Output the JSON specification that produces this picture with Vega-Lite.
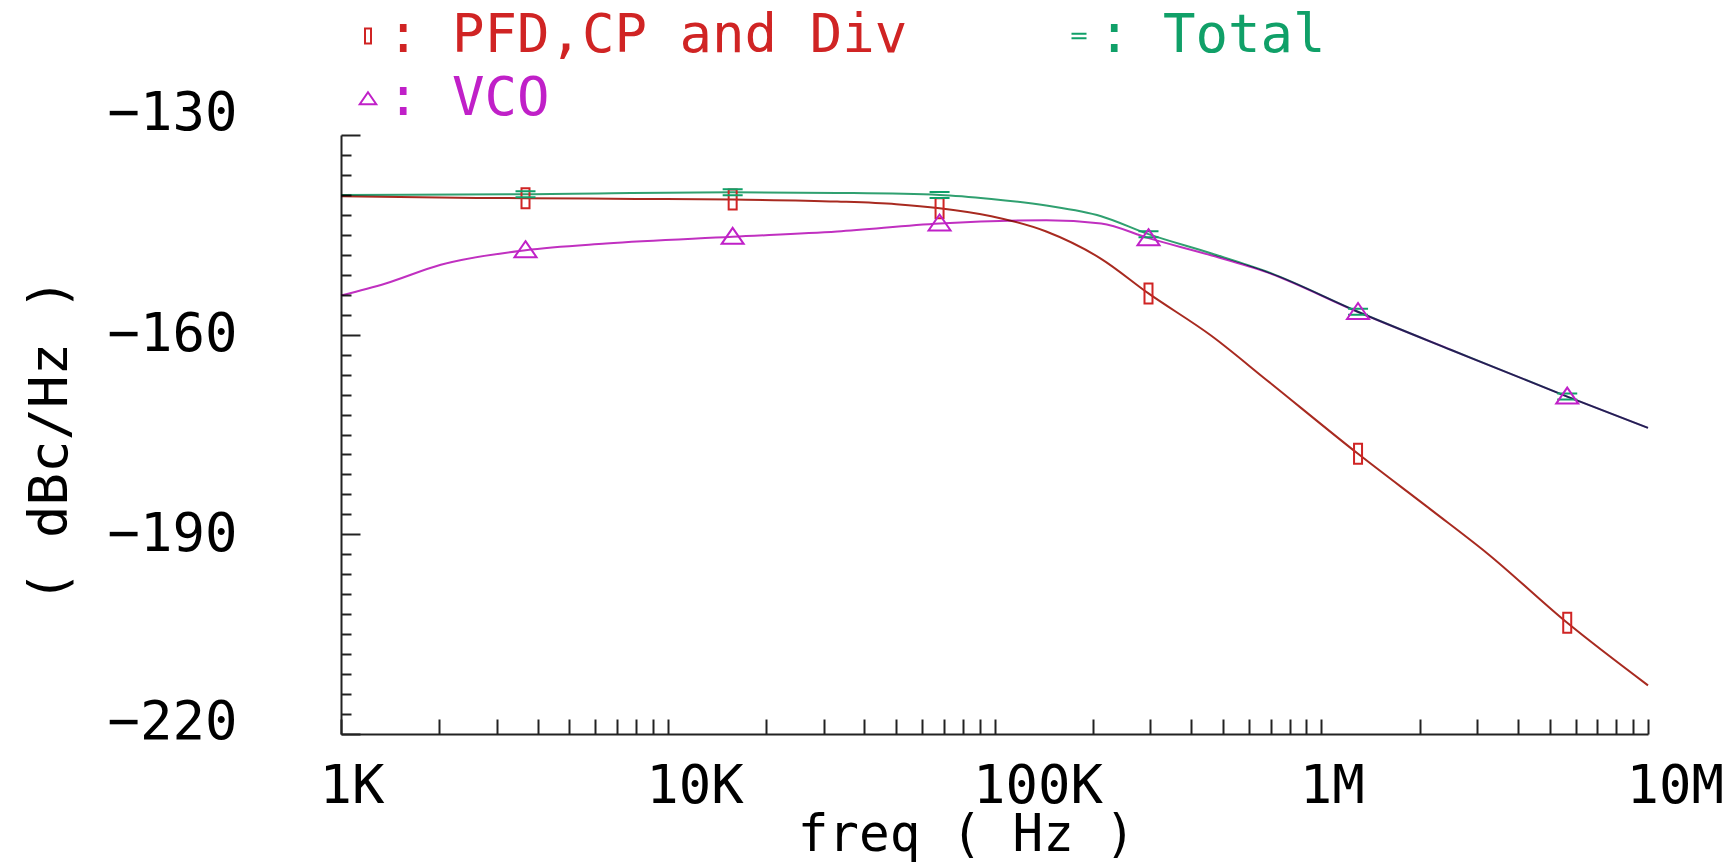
{
  "$schema": "https://vega.github.io/schema/vega-lite/v6.json",
  "width": 1307,
  "height": 599,
  "autosize": {"type": "none"},
  "padding": {"left": 341, "top": 135, "right": 80, "bottom": 130},
  "background": "white",
  "config": {"view": {"stroke": null}, "font": "DejaVu Sans Mono"},
  "data": {
    "values": [
      {"s": "PFD,CP and Div", "f": 1000, "v": -139.2, "m": 0},
      {"s": "PFD,CP and Div", "f": 2000, "v": -139.4, "m": 0},
      {"s": "PFD,CP and Div", "f": 3670, "v": -139.5, "m": 1},
      {"s": "PFD,CP and Div", "f": 8000, "v": -139.6, "m": 0},
      {"s": "PFD,CP and Div", "f": 15800, "v": -139.7, "m": 1},
      {"s": "PFD,CP and Div", "f": 33000, "v": -140.0, "m": 0},
      {"s": "PFD,CP and Div", "f": 50000, "v": -140.4, "m": 0},
      {"s": "PFD,CP and Div", "f": 67900, "v": -141.0, "m": 1},
      {"s": "PFD,CP and Div", "f": 97800, "v": -142.2, "m": 0},
      {"s": "PFD,CP and Div", "f": 144000, "v": -144.5, "m": 0},
      {"s": "PFD,CP and Div", "f": 212000, "v": -148.6, "m": 0},
      {"s": "PFD,CP and Div", "f": 296000, "v": -153.8, "m": 1},
      {"s": "PFD,CP and Div", "f": 462000, "v": -160.2, "m": 0},
      {"s": "PFD,CP and Div", "f": 680000, "v": -166.8, "m": 0},
      {"s": "PFD,CP and Div", "f": 1296000, "v": -177.9, "m": 1},
      {"s": "PFD,CP and Div", "f": 2180000, "v": -186.4, "m": 0},
      {"s": "PFD,CP and Div", "f": 3210000, "v": -192.8, "m": 0},
      {"s": "PFD,CP and Div", "f": 5660000, "v": -203.3, "m": 1},
      {"s": "PFD,CP and Div", "f": 10000000, "v": -212.7, "m": 0},
      {"s": "Total", "f": 1000, "v": -139.0, "m": 0},
      {"s": "Total", "f": 3670, "v": -138.9, "m": 1},
      {"s": "Total", "f": 15800, "v": -138.6, "m": 1},
      {"s": "Total", "f": 33000, "v": -138.7, "m": 0},
      {"s": "Total", "f": 67900, "v": -139.0, "m": 1},
      {"s": "Total", "f": 97800, "v": -139.6, "m": 0},
      {"s": "Total", "f": 144000, "v": -140.6, "m": 0},
      {"s": "Total", "f": 212000, "v": -142.2, "m": 0},
      {"s": "Total", "f": 296000, "v": -144.9, "m": 1},
      {"s": "Total", "f": 462000, "v": -147.8, "m": 0},
      {"s": "Total", "f": 680000, "v": -150.5, "m": 0},
      {"s": "Total", "f": 1296000, "v": -156.55, "m": 1},
      {"s": "Total", "f": 2500000, "v": -162.3, "m": 0},
      {"s": "Total", "f": 5660000, "v": -169.3, "m": 1},
      {"s": "Total", "f": 10000000, "v": -174.0, "m": 0},
      {"s": "VCO", "f": 1000, "v": -154.1, "m": 0},
      {"s": "VCO", "f": 1370, "v": -152.3, "m": 0},
      {"s": "VCO", "f": 2020, "v": -149.5, "m": 0},
      {"s": "VCO", "f": 3670, "v": -147.3, "m": 1},
      {"s": "VCO", "f": 6470, "v": -146.3, "m": 0},
      {"s": "VCO", "f": 15800, "v": -145.3, "m": 1},
      {"s": "VCO", "f": 33000, "v": -144.5, "m": 0},
      {"s": "VCO", "f": 67900, "v": -143.3, "m": 1},
      {"s": "VCO", "f": 144000, "v": -142.8, "m": 0},
      {"s": "VCO", "f": 212000, "v": -143.3, "m": 0},
      {"s": "VCO", "f": 296000, "v": -145.5, "m": 1},
      {"s": "VCO", "f": 462000, "v": -148.1, "m": 0},
      {"s": "VCO", "f": 680000, "v": -150.6, "m": 0},
      {"s": "VCO", "f": 1296000, "v": -156.6, "m": 1},
      {"s": "VCO", "f": 2500000, "v": -162.3, "m": 0},
      {"s": "VCO", "f": 5660000, "v": -169.3, "m": 1},
      {"s": "VCO", "f": 10000000, "v": -174.0, "m": 0}
    ]
  },
  "layer": [
    {
      "mark": {"type": "line", "strokeWidth": 2, "blend": "multiply", "interpolate": "monotone"},
      "encoding": {
        "x": {
          "field": "f",
          "type": "quantitative",
          "scale": {"type": "log", "domain": [1000, 10000000], "nice": false},
          "axis": {
            "values": [1000, 2000, 3000, 4000, 5000, 6000, 7000, 8000, 9000, 10000, 20000, 30000, 40000, 50000, 60000, 70000, 80000, 90000, 100000, 200000, 300000, 400000, 500000, 600000, 700000, 800000, 900000, 1000000, 2000000, 3000000, 4000000, 5000000, 6000000, 7000000, 8000000, 9000000, 10000000],
            "tickCount": 200,
            "labelExpr": "datum.value == 1000 ? '1K' : datum.value == 10000 ? '10K' : datum.value == 100000 ? '100K' : datum.value == 1000000 ? '1M' : datum.value == 10000000 ? '10M' : ''",
            "title": "freq ( Hz )",
            "grid": false,
            "tickSize": -15,
            "tickWidth": 2,
            "tickColor": "#222222",
            "domainColor": "#222222",
            "domainWidth": 2,
            "labelFont": "DejaVu Sans Mono",
            "labelFontSize": 54,
            "labelColor": "#000000",
            "labelAlign": "left",
            "labelBaseline": "top",
            "labelOffset": -22,
            "labelPadding": 40,
            "labelOverlap": false,
            "labelFlush": false,
            "labelBound": false,
            "titleFont": "DejaVu Sans Mono",
            "titleFontSize": 51,
            "titleFontWeight": "normal",
            "titleColor": "#000000",
            "titleX": 625,
            "titleY": 116,
            "titleAlign": "center",
            "titleBaseline": "alphabetic"
          }
        },
        "y": {
          "field": "v",
          "type": "quantitative",
          "scale": {"domain": [-220, -130], "nice": false, "zero": false},
          "axis": {
            "values": [-220, -217, -214, -211, -208, -205, -202, -199, -196, -193, -190, -187, -184, -181, -178, -175, -172, -169, -166, -163, -160, -157, -154, -151, -148, -145, -142, -139, -136, -133, -130],
            "tickCount": 200,
            "labelExpr": "(datum.value + 220) % 30 == 0 ? format(datum.value, 'd') : ''",
            "title": "( dBc/Hz )",
            "grid": false,
            "tickSize": {"condition": {"test": "(datum.value + 220) % 30 == 0", "value": -19}, "value": -10},
            "tickWidth": 2,
            "tickColor": "#222222",
            "domainColor": "#222222",
            "domainWidth": 2,
            "labelFont": "DejaVu Sans Mono",
            "labelFontSize": 54,
            "labelColor": "#000000",
            "labelAlign": "right",
            "labelBaseline": "middle",
            "labelPadding": 123,
            "labelOffset": {"condition": [{"test": "datum.value == -130", "value": -22}, {"test": "datum.value == -220", "value": -12}], "value": 0},
            "labelOverlap": false,
            "labelFlush": false,
            "labelBound": false,
            "titleFont": "DejaVu Sans Mono",
            "titleFontSize": 54,
            "titleFontWeight": "normal",
            "titleColor": "#000000",
            "titleX": -291,
            "titleY": 305,
            "titleAlign": "center",
            "titleBaseline": "middle"
          }
        },
        "stroke": {
          "field": "s",
          "type": "nominal",
          "scale": {"domain": ["Total", "VCO", "PFD,CP and Div"], "range": ["#30a070", "#c030c0", "#a82a20"]},
          "legend": null
        }
      }
    },
    {
      "transform": [{"filter": "datum.m == 1"}],
      "mark": {"type": "point", "filled": false, "strokeWidth": 2, "size": 400, "opacity": 1},
      "encoding": {
        "x": {"field": "f", "type": "quantitative"},
        "y": {"field": "v", "type": "quantitative"},
        "color": {
          "field": "s",
          "type": "nominal",
          "scale": {"domain": ["PFD,CP and Div", "Total", "VCO"], "range": ["#d02424", "#10a068", "#c020c8"]},
          "legend": {
            "orient": "none",
            "legendX": 0,
            "legendY": -126,
            "direction": "horizontal",
            "columns": 2,
            "columnPadding": 144,
            "rowPadding": 9,
            "title": null,
            "padding": 0,
            "labelFont": "DejaVu Sans Mono",
            "labelFontSize": 54,
            "labelLimit": 1000,
            "labelOffset": -8,
            "symbolSize": 225,
            "symbolStrokeWidth": 2,
            "labelExpr": "': ' + datum.label",
            "labelColor": {"expr": "scale('color', datum.value)"}
          }
        },
        "shape": {
          "field": "s",
          "type": "nominal",
          "scale": {"domain": ["PFD,CP and Div", "Total", "VCO"], "range": ["M-0.4,-1H0.4V1H-0.4Z", "M-1,-0.3H1M-1,0.3H1", "M0,-0.9L1.1,0.7L-1.1,0.7Z"]}
        }
      }
    }
  ]
}
